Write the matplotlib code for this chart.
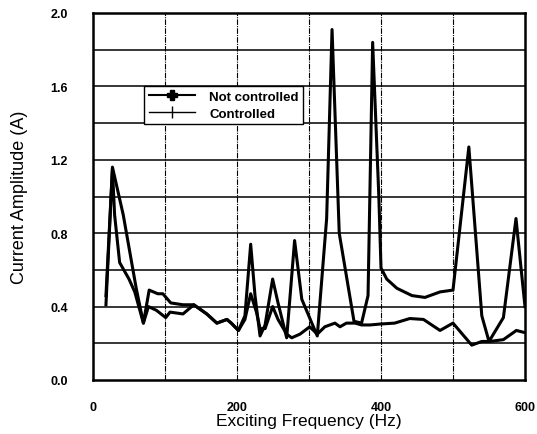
import numpy as np
import matplotlib.pyplot as plt
from matplotlib.lines import Line2D

plt.rcParams['font.family'] = ['Liberation Sans', 'DejaVu Sans']

# Not controlled (large resonance peaks)
freq_nc = [18, 27, 42, 60, 70, 78, 90, 97, 108, 125, 140, 158, 172, 186, 192,
           202, 211, 219, 225, 232, 239, 249.5, 257, 269, 280, 290, 311.5,
           324.5, 332, 342, 362.5, 373, 382, 388.4, 397, 400, 408, 422, 443,
           461, 482, 500, 522, 540, 550, 570, 587.5, 595, 600]
amp_nc = [0.41, 1.16, 0.90, 0.50, 0.31, 0.49, 0.47, 0.47, 0.42, 0.41, 0.41,
          0.36, 0.31, 0.33, 0.31, 0.27, 0.35, 0.74, 0.46, 0.24, 0.30, 0.55,
          0.42, 0.23, 0.76, 0.44, 0.24, 0.88, 1.91, 0.80, 0.32, 0.31, 0.46,
          1.84, 1.00, 0.61, 0.55, 0.50, 0.46, 0.45, 0.48, 0.49, 1.27, 0.35,
          0.21, 0.34, 0.88, 0.59, 0.40]

# Controlled
freq_c = [18, 27, 30, 37, 50, 58, 70, 77, 88, 101, 107, 125, 140, 158, 172,
          186, 192, 202, 211, 219, 227, 232, 239, 249.5, 257, 269, 276, 287.5,
          301, 311.5, 322, 329, 336, 343, 352, 364, 373, 385, 399, 419, 440,
          459, 482, 500, 526, 540, 551, 570, 588, 598]
amp_c = [0.46, 1.15, 0.90, 0.64, 0.55, 0.48, 0.31, 0.40, 0.38, 0.34, 0.37,
         0.36, 0.41, 0.36, 0.31, 0.33, 0.31, 0.27, 0.33, 0.47, 0.37, 0.28,
         0.28, 0.40, 0.33, 0.25, 0.23, 0.25, 0.29, 0.25, 0.29, 0.30, 0.31,
         0.29, 0.31, 0.31, 0.30, 0.30, 0.305, 0.31, 0.335, 0.33, 0.27, 0.31,
         0.19, 0.21, 0.21, 0.22, 0.27, 0.26]

xticks = [0, 200, 400, 600]
yticks = [0.0, 0.4, 0.8, 1.2, 1.6, 2.0]

fig = plt.figure(figsize=(5.37, 4.35), dpi=100)
ax = fig.add_axes([93 / 537, 54 / 435, 432 / 537, 367 / 435])

# grid: solid horizontal, broken vertical
for yv in np.arange(0.2, 2.0, 0.2):
    ax.axhline(yv, color='black', lw=1.1, zorder=1)
for xv in np.arange(100, 600, 100):
    ax.axvline(xv, color='black', lw=0.8, ls=(0, (5, 1, 1, 1)), zorder=1)

ax.plot(freq_nc, amp_nc, color='black', lw=2.2, zorder=3)
ax.plot(freq_c, amp_c, color='black', lw=2.2, zorder=3)

ax.set_xlim(0, 600)
ax.set_ylim(0, 2.0)
ax.set_xticks(xticks)
ax.set_yticks(yticks)
ax.set_xticklabels([str(t) for t in xticks], fontsize=9, fontweight='bold')
ax.set_yticklabels(['%.1f' % t for t in yticks], fontsize=9, fontweight='bold')
ax.tick_params(axis='both', length=0)
ax.tick_params(axis='x', pad=15)
ax.tick_params(axis='y', pad=18)
for s in ax.spines.values():
    s.set_linewidth(1.8)

ax.set_xlabel('Exciting Frequency (Hz)', fontsize=12.5, labelpad=0)
fig.text(20 / 537, 1 - 197 / 435, 'Current Amplitude (A)', rotation=90,
         fontsize=13, ha='center', va='center')

handles = [Line2D([], [], color='black', lw=1.5, marker='P', markersize=7),
           Line2D([], [], color='black', lw=1.0, marker='|', markersize=9)]
leg = ax.legend(handles, ['Not controlled', 'Controlled'],
                loc='upper left', bbox_to_anchor=(51 / 432, 1 - 73 / 367),
                prop={'size': 9.5, 'weight': 'bold'}, frameon=True,
                fancybox=False, framealpha=1, edgecolor='black',
                borderpad=0.35, labelspacing=0.35, handlelength=3.5,
                handletextpad=1.1, borderaxespad=0)
leg.get_frame().set_linewidth(1.0)
leg.set_zorder(4)

fig.savefig('out.png', dpi=100)
